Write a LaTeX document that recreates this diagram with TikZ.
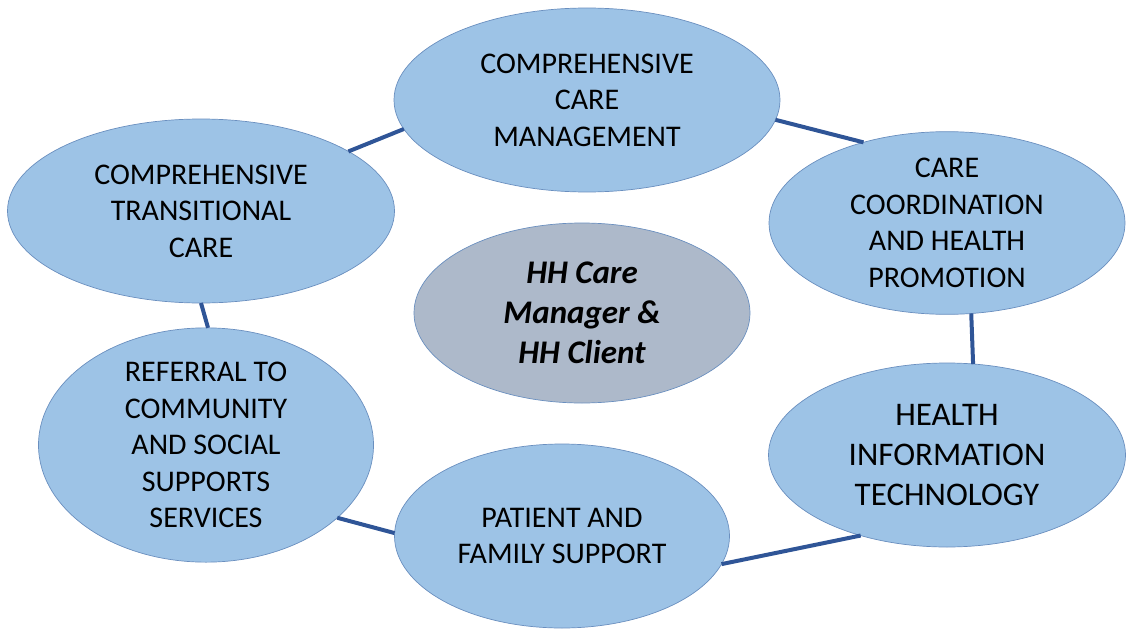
\documentclass[tikz,border=0pt]{standalone}
\usepackage{fontspec}
\setmainfont{Carlito}
\usetikzlibrary{shapes.geometric}
\definecolor{elfill}{HTML}{9DC3E6}
\definecolor{elline}{HTML}{6A8FBF}
\definecolor{cfill}{HTML}{ADB9CA}
\definecolor{conn}{HTML}{2F5597}
\tikzset{
  bub/.style={ellipse, draw=elline, line width=0.7pt, fill=elfill, inner sep=0pt, outer sep=0pt, align=center, font=\fontsize{30}{36.5}\selectfont},
  hub/.style={bub, fill=cfill, font=\fontsize{33}{40}\selectfont\bfseries\itshape},
  link/.style={draw=conn, line width=4pt}
}
\begin{document}
\begin{tikzpicture}[x=1pt,y=-1pt]
\useasboundingbox (0,0) rectangle (1135,634);
\node[bub, minimum width=386pt, minimum height=184pt] (ccm) at (587,100) {COMPREHENSIVE\\CARE\\MANAGEMENT};
\node[bub, minimum width=387pt, minimum height=184pt] (ctc) at (201,211) {COMPREHENSIVE\\TRANSITIONAL\\CARE};
\node[bub, minimum width=356pt, minimum height=180pt] (cchp) at (947,223) {CARE\\COORDINATION\\AND HEALTH\\PROMOTION};
\node[hub, minimum width=336pt, minimum height=180pt] (hh) at (582,313) {HH Care\\Manager \&\\HH Client};
\node[bub, minimum width=335pt, minimum height=204pt] (ref) at (206,445) {REFERRAL TO\\COMMUNITY\\AND SOCIAL\\SUPPORTS\\SERVICES};
\node[bub, minimum width=357pt, minimum height=184pt, font=\fontsize{33}{40}\selectfont] (hit) at (947,455) {HEALTH\\INFORMATION\\TECHNOLOGY};
\node[bub, minimum width=335pt, minimum height=184pt] (pfs) at (562,536) {PATIENT AND\\FAMILY SUPPORT};
\draw[link] (ctc.22.9) -- (ccm.189.3);
\draw[link] (ccm.354.1) -- (cchp.136.4);
\draw[link] (cchp.285.7) -- (hit.74.6);
\draw[link] (ctc.270.6) -- (ref.89.4);
\draw[link] (ref.331.1) -- (pfs.179.7);
\draw[link] (pfs.350.9) -- (hit.223.3);
\end{tikzpicture}
\end{document}
